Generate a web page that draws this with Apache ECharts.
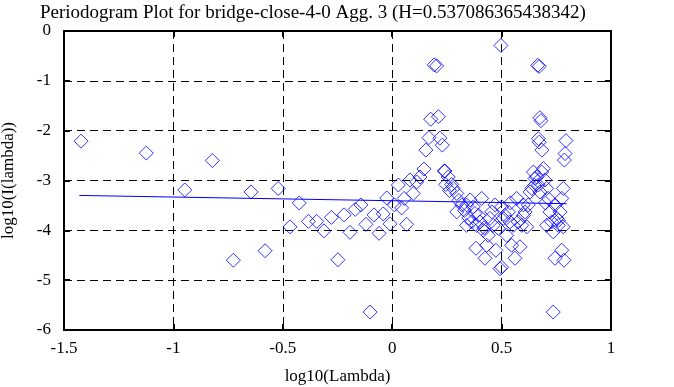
<!DOCTYPE html>
<html><head><meta charset="utf-8">
<script src="https://cdn.jsdelivr.net/npm/echarts@6/dist/echarts.min.js"></script>
<style>html,body{margin:0;padding:0;background:#fff}#c{width:674px;height:387px}</style>
</head><body><div id="c"></div>
<script>
var titleText = 'Periodogram Plot for bridge-close-4-0 Agg. 3 (H=0.537086365438342)';
var xTicks = [-1.5, -1, -0.5, 0, 0.5, 1];
var yTicks = [-6, -5, -4, -3, -2, -1, 0];
var ptX = [-1.422,-1.124,-0.948,-0.822,-0.726,-0.645,-0.581,-0.521,-0.467,-0.425,-0.383,-0.345,-0.312,-0.278,-0.248,-0.220,-0.193,-0.169,-0.143,-0.120,-0.101,-0.083,-0.060,-0.041,-0.025,-0.010,
 0.010,0.028,0.043,0.055,0.066,0.081,0.096,0.112,0.127,0.145,0.154,0.168,0.176,0.192,0.203,0.211,0.218,0.229,0.238,0.245,
 0.241,0.256,0.272,0.279,0.295,0.295,0.318,0.340,0.356,0.371,0.340,0.363,0.378,0.386,0.401,0.409,0.416,0.383,0.424,0.432,0.439,0.447,0.455,0.462,0.470,0.474,0.485,0.493,0.500,0.497,0.500,0.508,0.523,0.531,0.538,0.546,0.561,0.553,0.569,0.584,0.576,0.592,0.599,0.607,0.615,0.622,0.630,0.638,0.645,0.653,0.660,0.668,0.675,0.683,0.691,0.698,0.706,0.713,0.706,0.721,0.729,0.736,0.744,0.752,0.759,0.767,0.775,0.782,0.782,0.744,0.775,0.785,0.736,
 0.665,0.672,0.675,0.680,0.668,0.672,0.684,0.794,0.790,0.787,0.262,0.305,0.330,0.350,0.395,0.420,0.515,0.540,0.600,0.650,0.700,0.760];
var ptY = [-2.21,-2.45,-3.19,-2.60,-4.60,-3.23,-4.41,-3.16,-3.93,-3.45,-3.82,-3.82,-4.01,-3.74,-4.59,-3.69,-4.04,-3.58,-3.49,-3.88,-5.64,-3.69,-4.06,-3.67,-3.35,-3.87,
 -3.49,-3.09,-3.55,-3.36,-3.88,-2.99,-3.26,-3.03,-2.93,-2.77,-2.39,-2.14,-1.77,-0.68,-0.70,-1.72,-2.15,-2.29,-2.81,-3.08,
 -2.81,-2.93,-3.08,-3.16,-3.26,-3.63,-3.49,-3.49,-3.39,-3.53,-3.90,-3.83,-3.66,-3.90,-3.83,-3.36,-4.00,-4.36,-4.56,-4.30,-4.10,-3.76,-3.63,-3.90,-3.49,-4.40,-3.96,-4.77,-4.74,-0.29,-3.53,-3.76,-4.10,-3.63,-3.83,-4.30,-4.56,-3.90,-3.36,-4.33,-3.83,-3.90,-3.49,-3.63,-3.93,-3.49,-3.23,-3.16,-2.83,-2.96,-2.93,-3.09,-3.23,-2.83,-2.76,-2.99,-3.16,-3.36,-3.90,-3.63,-3.83,-4.03,-3.49,-3.76,-3.90,-3.63,-3.36,-3.16,-3.93,-4.56,-4.40,-4.60,-5.64,
 -0.69,-0.71,-1.74,-1.80,-2.16,-2.23,-2.39,-2.20,-2.46,-2.59,-3.20,-3.40,-3.60,-3.75,-3.70,-3.95,-3.70,-3.45,-3.70,-3.10,-3.45,-3.80];
var fitX = [-1.43, 0.797];
var fitY = [-3.30, -3.465];

var pts = ptX.map(function(x, i){ return [x, ptY[i]]; });
var fit = fitX.map(function(x, i){ return [x, fitY[i]]; });
var serif = 'Liberation Serif';
var dashed = {show:true, lineStyle:{color:'#000', type:[8,5], width:1}};
var frameLine = {show:true, onZero:false, lineStyle:{color:'#000', width:2}};
var tick = {show:true, inside:true, length:6, lineStyle:{color:'#000', width:2}};
var chart = echarts.init(document.getElementById('c'));
chart.setOption({
  animation:false,
  backgroundColor:'#fff',
  title:{text:titleText, left:35, top:-1, textStyle:{fontFamily:serif, fontSize:19, fontWeight:'normal', color:'#000'}},
  grid:{left:64, right:63, top:31, bottom:57, show:false, containLabel:false, outerBoundsMode:'none'},
  xAxis:[{
    type:'value', min:xTicks[0], max:xTicks[xTicks.length-1], interval:0.5, position:'bottom',
    name:'log10(Lambda)', nameLocation:'middle', nameGap:38,
    nameTextStyle:{fontFamily:serif, fontSize:17, color:'#000'},
    axisLine:frameLine, axisTick:tick,
    axisLabel:{fontFamily:serif, fontSize:17, color:'#000', margin:10},
    splitLine:dashed
  },{
    type:'value', min:xTicks[0], max:xTicks[xTicks.length-1], interval:0.5, position:'top',
    axisLine:frameLine, axisTick:tick,
    axisLabel:{show:false}, splitLine:{show:false}
  }],
  yAxis:[{
    type:'value', min:yTicks[0], max:yTicks[yTicks.length-1], interval:1, position:'left',
    name:'log10(I(lambda))', nameLocation:'middle', nameGap:47, nameRotate:90,
    nameTextStyle:{fontFamily:serif, fontSize:17, color:'#000'},
    axisLine:frameLine, axisTick:tick,
    axisLabel:{fontFamily:serif, fontSize:17, color:'#000', margin:13},
    splitLine:dashed
  },{
    type:'value', min:yTicks[0], max:yTicks[yTicks.length-1], interval:1, position:'right',
    axisLine:frameLine, axisTick:tick,
    axisLabel:{show:false}, splitLine:{show:false}
  }],
  series:[{
    type:'scatter', data:pts, symbol:'diamond', symbolSize:14,
    itemStyle:{color:'rgba(0,0,0,0)', borderColor:'#0000ff', borderWidth:1}, z:3
  },{
    type:'line', data:fit, symbol:'none', lineStyle:{color:'#0000ff', width:1}, z:4
  }]
});
</script></body></html>
